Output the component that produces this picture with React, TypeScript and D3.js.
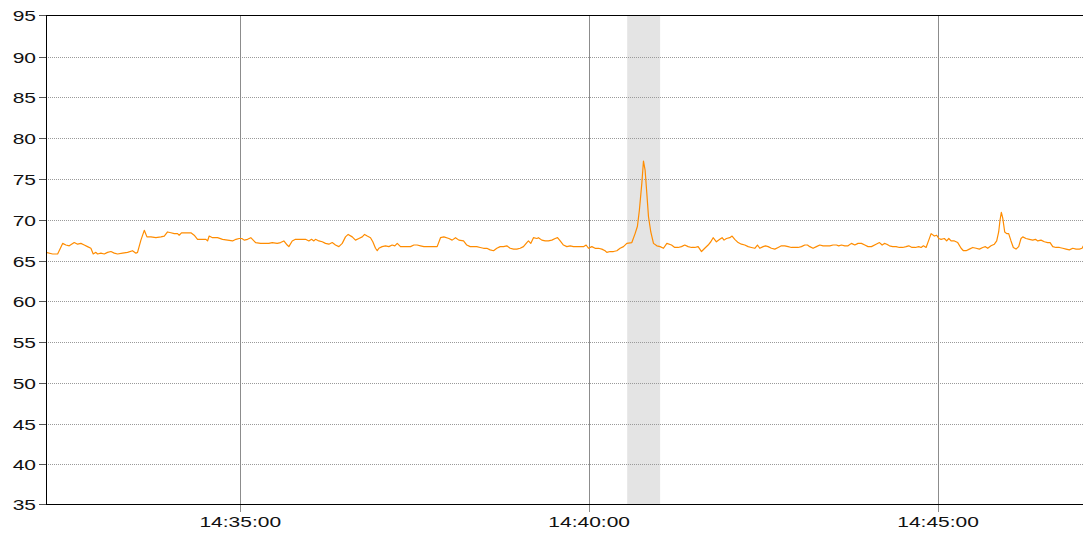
import React from "react";
import * as d3 from "d3";

// seconds after 14:30:00 and heart rate value
const heartRateSamples: [number, number][] = [
  [133, 66.0], [138.7, 65.8], [143, 65.8], [147.3, 67.1], [150.1, 66.9], [153, 66.8], [157.3, 67.2], [160.2, 67.0], [163, 67.1], [165.9, 66.9],
  [168.7, 66.7], [171.6, 66.5], [173.6, 65.8], [175.9, 66.0], [177.3, 65.8], [180.2, 65.9], [183.1, 65.8], [185.9, 66.0], [188.8, 66.1], [191.7, 65.9],
  [194.5, 65.8], [198.8, 65.9], [203.1, 66.0], [207.4, 66.2], [210.3, 65.9], [211.7, 66.0], [214.6, 67.5], [217.5, 68.7], [219.8, 67.9], [223.2, 67.9],
  [227.5, 67.8], [231.8, 67.9], [234.7, 68.0], [237.5, 68.5], [240.4, 68.4], [243.2, 68.3], [246.1, 68.3], [247.5, 68.1], [249.5, 68.4], [251.8, 68.4],
  [254.7, 68.4], [257.6, 68.4], [260.4, 68.1], [263.3, 67.6], [267.6, 67.6], [270.5, 67.6], [271.9, 67.4], [273.3, 68.0], [276.2, 67.8], [280.5, 67.8],
  [284.8, 67.6], [289.1, 67.5], [293.4, 67.4], [296.3, 67.6], [299.1, 67.7], [301.4, 67.7], [303.4, 67.5], [306.3, 67.6], [309.1, 67.8],
  [313.2, 67.2], [317.5, 67.1], [321.8, 67.1], [324.6, 67.1], [327.5, 67.2], [331.8, 67.1], [334.7, 67.2], [337.5, 67.4], [340.4, 66.9], [341.8, 66.7],
  [344.7, 67.4], [347.5, 67.6], [351.8, 67.6], [356.1, 67.6], [359, 67.4], [361.3, 67.6], [363.3, 67.4], [364.7, 67.6], [367.6, 67.4], [370.5, 67.3],
  [373.3, 67.1], [376.2, 67.0], [379.1, 67.2], [381.9, 66.9], [384.8, 66.7], [387.7, 67.1], [390.5, 67.9], [392.8, 68.2], [396.3, 67.9], [399.1, 67.5],
  [402, 67.7], [404.9, 67.9], [406.9, 68.2], [409.2, 68.0], [412, 67.8], [414, 67.3], [416.3, 66.5], [417.8, 66.2], [419.2, 66.5], [422, 66.7],
  [424.9, 66.8], [427.8, 66.7], [430.6, 66.9], [432.9, 66.8], [435, 67.1], [437.8, 66.7], [440.7, 66.7], [443.5, 66.7], [446.4, 66.7], [449.3, 66.9],
  [452.1, 66.9], [455, 66.8], [457.9, 66.7], [460.7, 66.7], [463.6, 66.7], [466.5, 66.7], [469.3, 66.7], [472.2, 67.8], [475.1, 67.9], [479.4, 67.7],
  [482.2, 67.5], [485.1, 67.8], [488, 67.5],
  [492, 67.4], [494.8, 66.9], [497.7, 66.7], [500.6, 66.7], [503.4, 66.7], [506.3, 66.6], [509.2, 66.5], [512, 66.5], [514.9, 66.3], [517.8, 66.2],
  [520.6, 66.5], [523.5, 66.7], [526.4, 66.7], [529.2, 66.8], [532.1, 66.5], [535, 66.4], [537.8, 66.4], [540.7, 66.5], [543.5, 66.7], [546.4, 67.2],
  [547.8, 67.4], [549.8, 67.1], [552.1, 67.8], [555, 67.7], [556.4, 67.8], [559.3, 67.5], [562.2, 67.4], [565, 67.4], [567.9, 67.5], [570.8, 67.7],
  [572.8, 67.8], [575.1, 67.4], [577.9, 66.9], [580.8, 66.7], [583.7, 66.8], [586.5, 66.7], [589.4, 66.7], [592.3, 66.7], [595.1, 66.7], [597.4, 66.9],
  [599.4, 66.5], [602.3, 66.7], [605.1, 66.5], [608, 66.5], [610.9, 66.4], [613.7, 66.2], [615.2, 66.0], [618, 66.1], [620.9, 66.1], [623.8, 66.2],
  [626.6, 66.5], [629.5, 66.7], [632.4, 67.1],
  [636.7, 67.2], [639.5, 68.3], [641.5, 69.2], [643.2, 71.2], [645.3, 74.5], [646.7, 77.2], [648.1, 76.1], [649.6, 73.2], [651, 70.4], [653, 68.5],
  [655.3, 67.1], [658.2, 66.8], [661, 66.7], [663.9, 66.5], [666.8, 67.1],
  [670.8, 66.9], [673.6, 66.6], [676.5, 66.6], [679.4, 66.7], [682.2, 66.9], [685.1, 66.7], [688, 66.6], [690.8, 66.6], [693.7, 66.7], [696.6, 66.1],
  [699.4, 66.5], [702.3, 66.9], [704.6, 67.3], [706.6, 67.8], [709.4, 67.3], [712.3, 67.6], [714.3, 67.8], [716, 67.5], [718, 67.7], [720.9, 67.8],
  [722.9, 68.0], [725.2, 67.6], [728.1, 67.2], [730.9, 67.0], [733.8, 66.9], [736.7, 66.7], [739.5, 66.6], [742.4, 66.5], [744.7, 66.9], [746.7, 66.5],
  [749.6, 66.7], [751.6, 66.8], [753.9, 66.7], [756.7, 66.5], [759.6, 66.4], [762.5, 66.6], [765.3, 66.8], [768.2, 66.8], [771.1, 66.7], [773.9, 66.6],
  [776.8, 66.6], [779.6, 66.6], [782.5, 66.7], [785.4, 66.9], [787.7, 66.9], [789.7, 66.7], [792.5, 66.5], [795.4, 66.7], [798.3, 66.9], [801.1, 66.8],
  [804, 66.8], [806.9, 66.8], [809.7, 66.9], [812.6, 66.9], [814.6, 66.8], [816.9, 66.9], [819.8, 66.8], [822.6, 66.8], [825.5, 67.1], [828.4, 66.9],
  [831.2, 67.1], [834.1, 67.1], [837, 66.9], [839.8, 66.7], [842.7, 66.7],
  [846.7, 67.0], [849.6, 67.2], [851.9, 66.9], [853.9, 67.1], [855.9, 67.0], [858.2, 66.8], [861, 66.7], [863.9, 66.7], [866.8, 66.6], [869.6, 66.6],
  [872.5, 66.7], [874.8, 66.8], [877.6, 66.6], [880.5, 66.6], [883.4, 66.7], [885.4, 66.6], [887.4, 66.8], [889.7, 66.6], [892, 67.5], [894, 68.3],
  [896.8, 68.0], [898.8, 68.1], [900.6, 67.7], [902.6, 67.6], [905.4, 67.7], [907.4, 67.4], [909.2, 67.7], [911.2, 67.4], [914, 67.4], [916.9, 67.2],
  [919.8, 66.5], [921.8, 66.2], [924.1, 66.2], [926.9, 66.4], [929.8, 66.6], [932.7, 66.5], [935.5, 66.4], [938.4, 66.6], [940.7, 66.7], [942.7, 66.5],
  [945.5, 66.8], [948.4, 67.0], [950.4, 67.4], [952.1, 68.5], [953.3, 70.0], [954.4, 70.9], [955.6, 70.2], [957.3, 68.5], [959, 68.3], [960.7, 68.3],
  [962.7, 67.4], [964.7, 66.6], [967, 66.4], [969.3, 66.7], [971.3, 67.7], [972.8, 67.9], [975.6, 67.7], [978.5, 67.6], [981.4, 67.5], [983.7, 67.6],
  [985.7, 67.4], [988.5, 67.5], [991.4, 67.3], [994.3, 67.2], [996.3, 67.2], [998.6, 66.7], [1001.4, 66.6], [1004.3, 66.6], [1007.2, 66.5], [1010, 66.4],
  [1012.9, 66.3], [1015.8, 66.5], [1018.6, 66.4], [1021.5, 66.4], [1023.8, 66.5], [1024.9, 66.8],
];

const timeDomainSec = [133, 1024.6];
const yTickValues = [35, 40, 45, 50, 55, 60, 65, 70, 75, 80, 85, 90, 95];
const xTickSec = [300, 600, 900]; // 14:35:00, 14:40:00, 14:45:00
const highlightBandSec = [632.7, 661];

const baseTime = new Date(2020, 0, 1, 14, 30, 0).getTime();
const toDate = (s: number) => new Date(baseTime + s * 1000);

const W = 1083;
const H = 534;
const M = { left: 46, top: 16, right: 1083, bottom: 505 };
const FONT = "Arial, 'Liberation Sans', sans-serif";
const TEXT_SX = 1.4;

export default function App() {
  const x = d3
    .scaleTime()
    .domain(timeDomainSec.map(toDate) as [Date, Date])
    .range([M.left, M.right]);
  const y = d3.scaleLinear().domain([35, 95]).range([M.bottom, M.top]);
  const fmt = d3.timeFormat("%H:%M:%S");
  const line = d3
    .line<[number, number]>()
    .x((d) => x(toDate(d[0])))
    .y((d) => y(d[1]));
  const snap = (v: number) => Math.round(v) + 0.5;

  return (
    <svg
      width={W}
      height={H}
      style={{ position: "absolute", left: 0, top: 0, background: "#fff" }}
    >
      <defs>
        <clipPath id="plotClip">
          <rect x={M.left} y={M.top} width={M.right - M.left} height={M.bottom - M.top} />
        </clipPath>
      </defs>
      <rect x={0} y={0} width={W} height={H} fill="#fff" />
      {/* highlight band */}
      <rect
        x={x(toDate(highlightBandSec[0]))}
        y={M.top}
        width={x(toDate(highlightBandSec[1])) - x(toDate(highlightBandSec[0]))}
        height={M.bottom - M.top}
        fill="#e4e4e4"
      />
      {/* horizontal grid */}
      {yTickValues
        .filter((v) => v !== 35 && v !== 95)
        .map((v) => (
          <line
            key={"hg" + v}
            x1={M.left}
            x2={M.right}
            y1={snap(y(v))}
            y2={snap(y(v))}
            stroke="#9a9a9a"
            strokeWidth={1}
            strokeDasharray="1,1"
          />
        ))}
      {/* vertical grid + ticks */}
      {xTickSec.map((s) => {
        const xx = snap(x(toDate(s)));
        return (
          <line key={"vg" + s} x1={xx} x2={xx} y1={M.top} y2={M.bottom + 7} stroke="#8c8c8c" strokeWidth={1} />
        );
      })}
      {/* data line */}
      <path
        d={line(heartRateSamples) || ""}
        fill="none"
        stroke="#ff8c00"
        strokeWidth={1.2}
        strokeLinejoin="round"
        clipPath="url(#plotClip)"
      />
      {/* axes */}
      <line x1={M.left} x2={M.right} y1={snap(M.top) - 1} y2={snap(M.top) - 1} stroke="#000" strokeWidth={1} />
      <line x1={M.left} x2={M.right} y1={snap(M.bottom) - 1} y2={snap(M.bottom) - 1} stroke="#000" strokeWidth={1} />
      <line x1={M.left + 0.5} x2={M.left + 0.5} y1={M.top} y2={M.bottom} stroke="#000" strokeWidth={1} />
      {/* y ticks and labels */}
      {yTickValues.map((v) => {
        const yy = snap(y(v)) - (v === 35 || v === 95 ? 1 : 0);
        return (
          <g key={"yt" + v}>
            <line x1={M.left - 7} x2={M.left} y1={yy} y2={yy} stroke="#555" strokeWidth={1} />
            <text
              transform={`translate(36, ${yy}) scale(${TEXT_SX},1)`}
              textAnchor="end"
              dy="0.36em"
              fontFamily={FONT}
              fontSize={15}
              fill="#111"
            >
              {v}
            </text>
          </g>
        );
      })}
      {/* x labels */}
      {xTickSec.map((s) => {
        const xx = x(toDate(s));
        return (
          <text
            key={"xl" + s}
            transform={`translate(${xx}, 527) scale(${TEXT_SX},1)`}
            textAnchor="middle"
            fontFamily={FONT}
            fontSize={15}
            fill="#111"
          >
            {fmt(toDate(s))}
          </text>
        );
      })}
    </svg>
  );
}
